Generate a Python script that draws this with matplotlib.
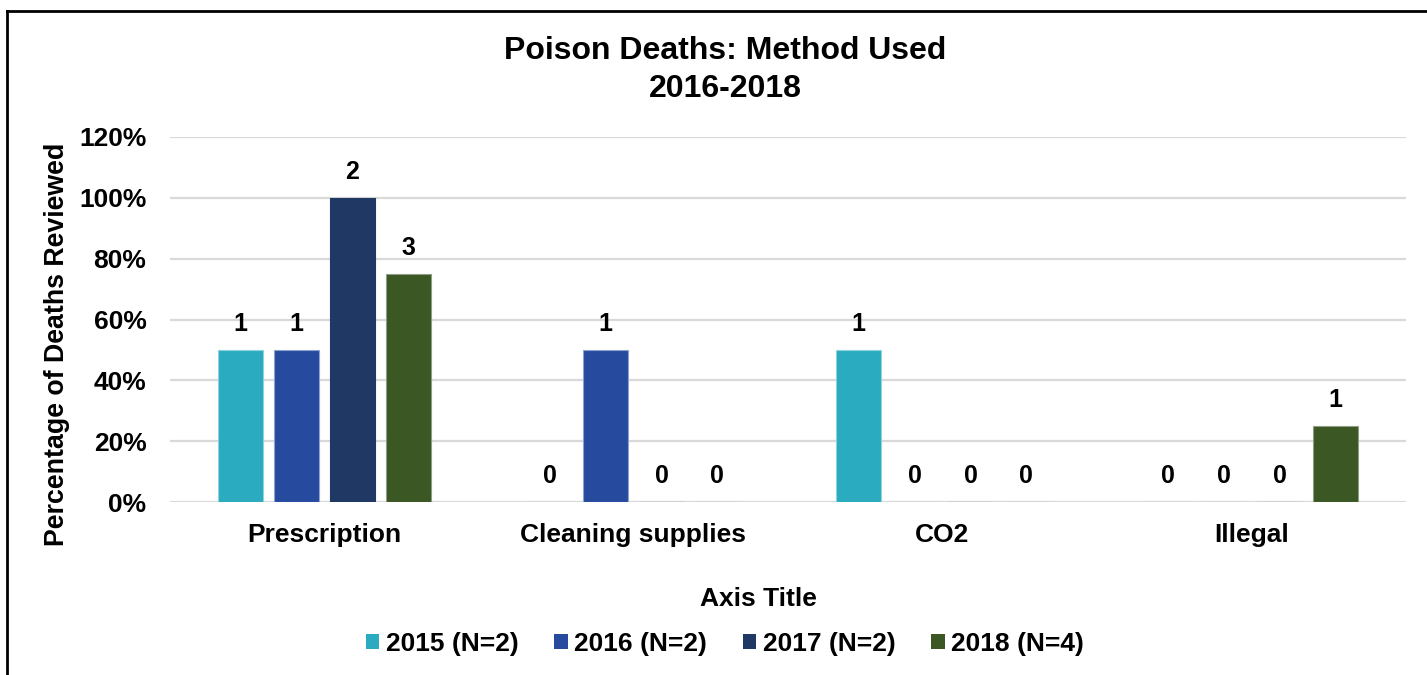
import numpy as np
import matplotlib.pyplot as plt
from matplotlib.patches import Patch
from matplotlib.lines import Line2D

plt.rcParams['font.family'] = ['Liberation Sans', 'DejaVu Sans']
plt.rcParams['font.weight'] = 'bold'

# data
categories = ['Prescription', 'Cleaning supplies', 'CO2', 'Illegal']
series = ['2015 (N=2)', '2016 (N=2)', '2017 (N=2)', '2018 (N=4)']
pct = {
    '2015 (N=2)': [50, 0, 50, 0],
    '2016 (N=2)': [50, 50, 0, 0],
    '2017 (N=2)': [100, 0, 0, 0],
    '2018 (N=4)': [75, 0, 0, 25],
}
counts = {
    '2015 (N=2)': [1, 0, 1, 0],
    '2016 (N=2)': [1, 1, 0, 0],
    '2017 (N=2)': [2, 0, 0, 0],
    '2018 (N=4)': [3, 0, 0, 1],
}
colors = ['#2AABBF', '#264B9E', '#1F3864', '#3A5724']
edges = ['#8FD3DD', '#8FA3CF', '#1F3864', '#8E9E84']

fig = plt.figure(figsize=(14.27, 6.75), dpi=100)
ax = fig.add_axes([170/1427, 1 - 502/675, 1236/1427, 365/675])

x = np.arange(len(categories))
step = 0.181
width = 0.146
for i, s in enumerate(series):
    pos = x + (i - 1.5) * step
    bars = ax.bar(pos, pct[s], width=width, color=colors[i], edgecolor=edges[i],
                  linewidth=0.8, zorder=3)
    for b, c in zip(bars, counts[s]):
        ax.annotate(str(c), (b.get_x() + b.get_width()/2, b.get_height()),
                    xytext=(0, 10), textcoords='offset points',
                    ha='center', va='bottom', fontsize=18, fontweight='bold')

ax.set_xlim(-0.5, len(categories) - 0.5)
ax.set_ylim(0, 120)
ax.set_yticks(np.arange(0, 121, 20))
ax.set_yticklabels([f'{v}%' for v in range(0, 121, 20)])
ax.set_xticks(x)
ax.set_xticklabels(categories)
ax.tick_params(axis='both', length=0, labelsize=19)
ax.tick_params(axis='y', pad=17)
ax.tick_params(axis='x', pad=15)
for sp in ax.spines.values():
    sp.set_visible(False)
ax.grid(axis='y', color='#D9D9D9', linewidth=1.6, zorder=0)
ax.set_axisbelow(True)

fig.text(725/1427, 1 - 51/675, 'Poison Deaths: Method Used', ha='center', va='center',
         fontsize=23, fontweight='bold')
fig.text(725/1427, 1 - 89/675, '2016-2018', ha='center', va='center',
         fontsize=23, fontweight='bold')
fig.text(57/1427, 1 - 344/675, 'Percentage of Deaths Reviewed', rotation=90,
         ha='center', va='center', fontsize=19.3, fontweight='bold')
fig.text(758/1427, 1 - 599/675, 'Axis Title', ha='center', va='center',
         fontsize=19, fontweight='bold')

handles = [Patch(facecolor=c) for c in colors]
fig.legend(handles, series, loc='center', bbox_to_anchor=(725/1427, 1 - 644/675),
           ncol=4, frameon=False, handlelength=0.5, handleheight=0.5,
           handletextpad=0.25, columnspacing=1.36, prop={'weight': 'bold', 'size': 19})

# chart border (left and top edges visible)
fig.add_artist(Line2D([6.5/1427, 6.5/1427], [0, 1 - 10.5/675], color='black',
                      linewidth=2, transform=fig.transFigure))
fig.add_artist(Line2D([6.5/1427, 1], [1 - 10.5/675, 1 - 10.5/675], color='black',
                      linewidth=2, transform=fig.transFigure))

fig.savefig('out.png', dpi=100)
